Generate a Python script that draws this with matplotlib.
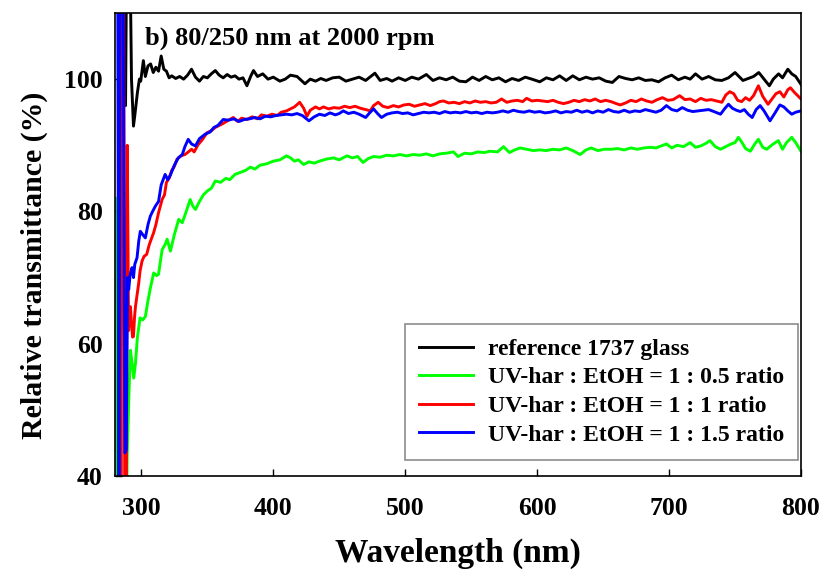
import matplotlib
matplotlib.use("Agg")
import matplotlib.pyplot as plt

plt.rcParams['font.family'] = ['Liberation Serif', 'DejaVu Serif']
plt.rcParams['font.weight'] = 'bold'

# Reference 1737 glass
wl_ref = [280, 287, 288, 289, 291, 292.5, 294, 295, 297, 298.5, 299.5, 301.5, 303, 305, 307, 309, 311, 313, 315, 317,
          319, 321, 323, 326, 329, 332, 335, 338, 341, 344, 347, 350, 353, 356, 359, 362, 365, 368, 371, 374,
          377, 380, 383, 385, 388, 392, 396, 400, 405, 409, 413, 418, 424, 428, 432, 436, 440, 445, 450, 455,
          460, 465, 470, 477, 481, 486, 490, 495, 500, 505, 510, 516, 521, 526, 531, 536, 541, 546, 551, 556,
          561, 566, 571, 576, 581, 586, 591, 596, 602, 607, 612, 617, 622, 627, 632, 637, 642, 647, 652, 657,
          662, 667, 672, 677, 682, 687, 692, 697, 702, 707, 712, 716, 720, 725, 730, 735, 740, 745, 750, 756,
          760, 764, 768, 772, 776, 779, 783, 786, 790, 793, 796, 800]
t_ref = [125, 125, 96, 125, 125, 100, 92.9, 94.5, 98, 100, 99.7, 102.8, 100.4, 102, 102.3, 101, 101.8, 101.2, 103.5, 101.5,
         101.2, 100.2, 100.5, 100.1, 100.4, 100.0, 100.6, 101.5, 100.3, 99.7, 100.4, 100.2, 100.8, 101.3, 100.6, 100.2, 100.7, 100.3, 100.5, 100.0,
         100.2, 99.0, 100.5, 101.3, 100.4, 100.8, 100.0, 100.3, 99.7, 100.0, 100.6, 100.4, 99.3, 100.0, 99.7, 100.1, 99.8, 100.2, 100.3, 99.7,
         100.0, 100.3, 99.8, 100.9, 99.8, 100.1, 99.7, 100.2, 99.8, 100.3, 100.0, 100.7, 99.8, 100.2, 99.9, 100.3, 99.7, 99.6, 100.3, 99.8,
         100.4, 99.9, 100.2, 99.6, 100.1, 99.8, 100.3, 100.0, 99.6, 100.2, 99.9, 100.5, 99.8, 100.5, 99.9, 100.3, 100.0, 100.2, 99.7, 99.5,
         100.4, 100.1, 99.9, 100.2, 99.8, 99.9, 99.6, 100.2, 100.6, 99.9, 100.3, 100.0, 100.8, 100.0, 100.4, 99.9, 99.8, 100.2, 101.0, 99.8,
         100.1, 100.4, 101.0, 100.0, 99.0, 100.0, 100.8, 100.2, 101.5, 100.8, 100.4, 99.2]

# UV-har : EtOH = 1 : 0.5
wl_05 = [280.3, 281, 288.5, 289.2, 290.5, 291.7, 293, 294.2, 295.5, 297, 299, 301, 303, 305, 306.8, 309.3, 311.5, 313, 315.7, 318,
         319.5, 322, 325, 328.3, 331, 334, 337, 339, 341, 344, 347, 350, 353, 356, 360, 364, 367, 371, 375, 379,
         382.6, 386, 390, 395, 400, 405, 410, 413, 416, 419, 423, 427, 431, 435, 440, 445.7, 450, 455.8, 460, 464,
         468, 472, 476, 481, 486, 491, 496, 501, 506, 511, 516, 521, 526, 531, 536.6, 540, 545, 550, 555, 560,
         564, 570, 574.5, 579, 583, 587, 592, 597, 602, 607, 612, 617, 622, 627, 632.6, 637, 641, 646, 651, 656,
         661, 666, 671, 676, 681, 686, 690, 694, 698, 702, 706, 711, 716, 720, 724, 728, 731, 735, 739, 743,
         747, 750, 752.5, 755, 758, 761.6, 765, 767.7, 771, 774, 777, 779, 782.8, 786, 789, 793, 796, 800]
t_05 = [82, 25, 25, 43, 52, 59, 57, 54.8, 57, 61, 63.9, 63.6, 64.1, 66.5, 68.4, 70.7, 70.3, 70.5, 74.2, 75,
        75.8, 74, 76.5, 78.8, 78.3, 80, 81.8, 80.8, 80.3, 81.5, 82.5, 83.1, 83.5, 84.6, 84.4, 85, 84.8, 85.6, 85.9, 86.2,
        86.7, 86.4, 87.0, 87.2, 87.6, 87.8, 88.4, 88.1, 87.6, 87.8, 87.1, 87.5, 87.3, 87.6, 87.9, 88.1, 87.8, 88.4, 88.1, 88.3,
        87.4, 88.0, 88.3, 88.2, 88.5, 88.4, 88.6, 88.4, 88.6, 88.5, 88.7, 88.4, 88.7, 88.8, 89.0, 88.3, 88.8, 88.7, 89.0, 88.9,
        89.1, 89.0, 89.8, 88.9, 89.3, 89.6, 89.4, 89.2, 89.3, 89.2, 89.4, 89.3, 89.6, 89.2, 88.6, 89.3, 89.6, 89.2, 89.4, 89.4,
        89.5, 89.3, 89.6, 89.4, 89.6, 89.7, 89.6, 89.9, 90.2, 89.6, 90.0, 89.8, 90.4, 89.7, 89.9, 90.3, 90.7, 89.8, 89.4, 89.8,
        90.2, 90.4, 91.2, 90.5, 89.5, 89.1, 90.2, 90.9, 89.7, 89.4, 89.9, 90.2, 90.7, 89.4, 90.4, 91.2, 90.4, 89.1]

# UV-har : EtOH = 1 : 1
wl_10 = [280, 283.5, 284.5, 285.5, 286.5, 287.5, 288.5, 289.3, 290.3, 291, 291.7, 292.5, 293.3, 294, 294.8, 295.5, 296.5, 298, 299, 300.5,
         302, 304, 306, 307.5, 309.3, 311, 313, 315.7, 317.5, 319, 321, 323, 325, 327, 330, 333, 335, 338, 340, 343,
         346, 349.8, 353, 356, 359, 362, 366, 369.7, 373, 376, 380, 384, 388, 391, 395, 399, 403, 406, 410, 413,
         416, 420, 423, 425.5, 428, 432, 435, 438, 442, 446, 450, 454, 458, 462, 466, 470, 473.5, 476, 479.5, 483,
         487, 491, 495, 499, 503, 507, 511, 515, 519, 523, 526, 529, 533, 537, 541, 545, 549, 553, 557, 561,
         565, 569, 573, 577, 581, 585, 589, 592, 596, 600, 604, 608, 612, 616, 620, 624, 628, 632, 636, 640,
         644, 648, 652, 656, 660, 663, 667, 671, 675, 679, 683, 687, 691, 695, 699, 703, 708, 712, 716, 720,
         724, 728, 732, 736, 740, 743, 746, 749, 752, 755, 758, 761, 764, 767.7, 771, 775, 778, 781, 784, 787,
         790, 792, 795, 797, 800]
t_10 = [125, 125, 25, 125, 125, 25, 25, 90, 62, 65, 65.6, 63, 61, 61.1, 64, 65.6, 67, 69.2, 71, 72.5,
        73.2, 73.5, 75, 75.8, 76.8, 78, 79.8, 81.8, 82.5, 84.4, 85, 86.2, 86.8, 87.9, 88.4, 88.6, 88.9, 89.4, 89.0, 90.1,
        90.8, 91.9, 92.2, 92.7, 93, 93.3, 93.8, 94.2, 93.6, 94.1, 93.9, 94.3, 94.0, 94.6, 94.4, 94.7, 94.5, 95, 95.2, 95.5,
        95.8, 96.5, 95.6, 94.4, 95.3, 95.8, 95.5, 95.8, 95.5, 95.7, 95.6, 95.9, 95.7, 95.9, 95.6, 95.4, 95.2, 96.0, 96.5, 95.9,
        95.7, 96.0, 95.8, 96.1, 96.2, 95.9, 96.1, 96.3, 96.0, 96.3, 96.6, 96.7, 96.4, 96.5, 96.3, 96.6, 96.4, 96.7, 96.5, 96.6,
        96.4, 96.5, 97.0, 96.5, 96.7, 96.8, 96.6, 97.1, 96.7, 96.8, 96.7, 96.6, 96.8, 96.5, 96.3, 96.5, 96.8, 96.6, 96.9, 96.7,
        97.0, 96.6, 96.8, 96.6, 96.3, 96.1, 96.4, 96.8, 96.6, 97.0, 96.7, 96.5, 96.9, 97.2, 96.8, 96.9, 97.5, 96.9, 97.0, 96.6,
        97.1, 96.8, 96.9, 96.7, 96.5, 97.6, 98.1, 97.8, 96.8, 96.6, 97.2, 96.8, 97.5, 99.0, 97.4, 96.2, 97.0, 97.8, 98.1, 97.3,
        98.4, 98.7, 98.0, 97.6, 97.0]

# UV-har : EtOH = 1 : 1.5
wl_15 = [280, 282, 283, 284, 286, 287.5, 288.5, 289.5, 290.4, 291.5, 292.9, 294, 295, 296.7, 298, 299.2, 301, 303, 305, 306.8,
         308.5, 310.6, 313, 315, 318, 320, 322, 325, 328, 331, 333, 335.5, 338, 341, 344, 348.5, 352, 355, 358, 362,
         366, 370, 374, 378, 382, 386, 390, 394, 398, 402, 406, 410, 414, 418, 422, 427, 431, 435, 439, 443,
         447, 450, 453, 457, 461, 465, 470, 473, 476, 479, 482, 486, 490, 494, 498, 502, 506, 510, 514, 518,
         522, 526, 530, 534, 538, 542, 546, 550, 554, 558, 562, 566, 570, 574, 578, 582, 586, 590, 594, 598,
         602, 606, 610, 614, 618, 622, 626, 630, 634, 638, 642, 646, 650, 654, 658, 662, 666, 670, 674, 678,
         682, 686, 690, 694, 698, 702, 706, 710, 714, 718, 722, 726, 730, 734, 739, 742, 745, 748, 751, 754,
         757, 760, 763, 766, 769, 772, 776.5, 780, 784, 787, 790, 793, 796, 800]
t_15 = [125, 125, 25, 125, 125, 43.5, 44, 70, 68.2, 70.5, 71.5, 70, 72, 73, 75.5, 77, 76.5, 76.0, 78, 79.3,
        80, 80.8, 81.5, 84, 85.6, 84.8, 85.5, 87, 88.1, 88.6, 89.8, 90.9, 90.2, 89.9, 91, 91.7, 92.0, 92.7, 93.0, 93.9,
        93.8, 94.0, 93.6, 93.9, 94.0, 94.2, 94.0, 94.4, 94.3, 94.5, 94.6, 94.7, 94.6, 94.8, 94.5, 93.7, 94.3, 94.7, 94.5, 94.9,
        94.6, 94.8, 95.2, 94.8, 95.0, 94.7, 94.2, 94.9, 95.5, 94.8, 94.2, 94.7, 94.9, 95.0, 94.8, 94.9, 94.6, 94.8, 95.0, 94.9,
        95.0, 94.8, 95.1, 94.9, 95.0, 94.9, 95.1, 94.9, 95.0, 94.8, 95.0, 94.9, 95.0, 95.2, 95.0, 95.3, 95.1, 95.0, 95.2, 95.0,
        95.1, 94.9, 95.0, 95.2, 94.9, 95.1, 95.0, 95.3, 95.0, 95.2, 94.9, 95.2, 95.0, 95.4, 95.1, 95.0, 95.3, 95.0, 95.2, 95.1,
        95.4, 95.2, 95.0, 95.3, 96.0, 95.4, 95.2, 95.7, 95.3, 95.1, 95.2, 95.3, 95.4, 95.1, 94.7, 95.5, 96.2, 95.6, 95.3, 95.1,
        95.4, 94.7, 94.2, 95.4, 96.0, 95.2, 93.7, 94.8, 96.1, 95.8, 95.2, 94.7, 95.0, 95.2]

series = [
    (wl_ref, t_ref, '#000000', 'reference 1737 glass'),
    (wl_05, t_05, '#00FF00', 'UV-har : EtOH = 1 : 0.5 ratio'),
    (wl_10, t_10, '#FF0000', 'UV-har : EtOH = 1 : 1 ratio'),
    (wl_15, t_15, '#0000FF', 'UV-har : EtOH = 1 : 1.5 ratio'),
]

fig = plt.figure(figsize=(8.24, 5.71), dpi=100)
ax = fig.add_axes([115 / 824, 95 / 571, 686 / 824, 463 / 571])

for wl, t, c, lab in series:
    ax.plot(wl, t, color=c, lw=2.1, label=lab, solid_joinstyle='round')

ax.set_xlim(280, 800)
ax.set_ylim(40, 110)
ax.set_xticks([300, 400, 500, 600, 700, 800])
ax.set_yticks([40, 60, 80, 100])
ax.tick_params(direction='in', length=5, width=1, labelsize=18.5,
               top=False, right=False)
ax.tick_params(axis='x', pad=15)
ax.tick_params(axis='y', pad=9)
for lbl in ax.get_xticklabels() + ax.get_yticklabels():
    lbl.set_fontweight('bold')
for sp in ax.spines.values():
    sp.set_linewidth(1.2)

ax.set_xlabel('Wavelength (nm)', fontsize=24, fontweight='bold')
ax.xaxis.set_label_coords(0.5, -0.134)
ax.set_ylabel('Relative transmittance (%)', fontsize=21.5, fontweight='bold')
ax.yaxis.set_label_coords(-0.098, 0.455)

ax.text(0.044, 0.946, 'b) 80/250 nm at 2000 rpm', transform=ax.transAxes,
        fontsize=19, fontweight='bold', va='center', ha='left')

leg = ax.legend(loc='upper left', bbox_to_anchor=(0.4227, 0.328), fontsize=17,
                frameon=True, fancybox=False, edgecolor='#707070',
                handlelength=2.3, handletextpad=0.6, labelspacing=0.3,
                borderpad=0.6, borderaxespad=0)
leg.get_frame().set_linewidth(1.2)
for txt in leg.get_texts():
    txt.set_fontweight('bold')

fig.savefig('out.png', dpi=100)
